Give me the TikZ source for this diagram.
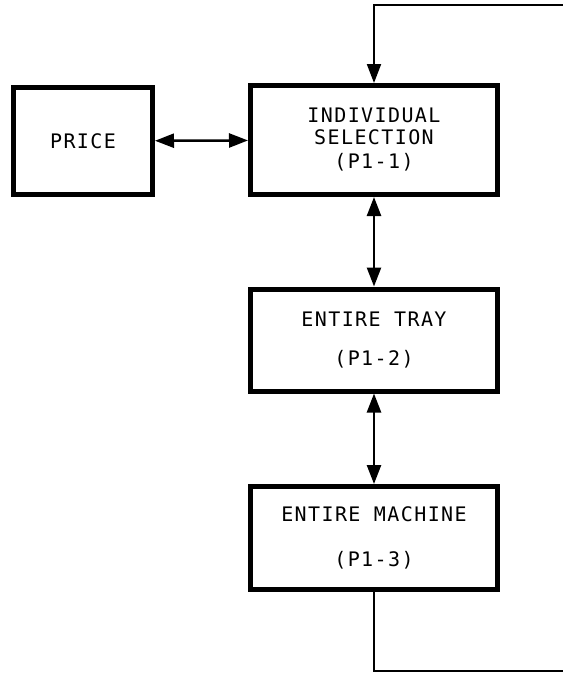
\documentclass[tikz,border=0pt]{standalone}
\usepackage{fontspec}
\setmonofont[LetterSpace=7]{DejaVu Sans Mono}
\usetikzlibrary{arrows.meta}

\begin{document}
\begin{tikzpicture}[
  x=1pt, y=-1pt,
  box/.style={draw, line width=5pt, align=center, minimum width=247pt,
    font=\ttfamily\fontsize{20}{22}\selectfont},
  arr/.style={{Triangle[length=19pt,width=14pt]}-{Triangle[length=19pt,width=14pt]}, line width=2.5pt},
  ret/.style={line width=2pt}
]
  \useasboundingbox (0,0) rectangle (563,673);
  \node[box, minimum width=139pt, minimum height=107pt] (price) at (83,141) {PRICE};
  \node[box, minimum height=109pt] (sel) at (374,140) {INDIVIDUAL\\SELECTION\\[2pt](P1-1)};
  \node[box, minimum height=102pt] (tray) at (374,340) {ENTIRE TRAY\\[17pt](P1-2)};
  \node[box, minimum height=103pt] (mach) at (374,538) {ENTIRE MACHINE\\[23pt](P1-3)};
  \coordinate (botR) at (563,671);
  \coordinate (topR) at (563,5);
  \draw[arr] (price) -- (sel);
  \draw[arr] (sel) -- (tray);
  \draw[arr] (tray) -- (mach);
  % return path
  \draw[ret] (mach.south) |- (botR);
  \draw[ret, -{Triangle[length=19pt,width=14pt]}] (topR) -| (sel.north);
\end{tikzpicture}
\end{document}
